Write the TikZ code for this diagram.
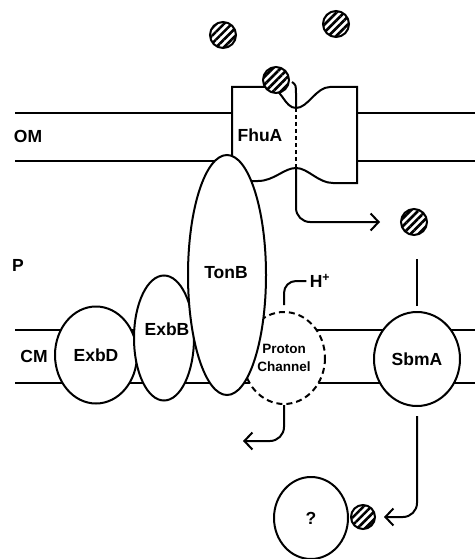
\documentclass[tikz,border=0pt]{standalone}
\usepackage{fontspec}
\setmainfont{Liberation Sans}
\usetikzlibrary{shapes.geometric,arrows.meta,patterns.meta}

\begin{document}
\begin{tikzpicture}[x=1pt, y=-1pt,
  lbl/.style={font=\fontsize{17.5}{20}\selectfont\bfseries},
  prot/.style={ellipse, draw, fill=white, line width=2pt, inner sep=0pt, lbl},
  memb/.style={line width=2pt},
  ball/.style={circle, draw, line width=2pt, minimum size=26pt, inner sep=0pt,
    preaction={fill=white}, pattern={Lines[angle=45, distance=5.5pt, line width=2.6pt]}},
  flow/.style={line width=2pt, rounded corners=14pt,
    -{Straight Barb[length=8pt, width=17pt, line width=2pt]}}
]
  \useasboundingbox (0,0) rectangle (475,559);

  % Outer and cytoplasmic membranes
  \draw[memb] (15,113) -- (475,113);
  \draw[memb] (15,161) -- (475,161);
  \draw[memb] (15,330) -- (475,330);
  \draw[memb] (15,383) -- (475,383);
  \node[lbl] (om) at (28,136) {OM};
  \node[lbl] (cm) at (34,356) {CM};
  \node[lbl] (peri) at (18,265) {P};

  % FhuA barrel in the outer membrane
  \draw[memb, fill=white] (232,87) -- (268,87)
    .. controls (282,87) and (284,108) .. (296,108)
    .. controls (308,108) and (316,87) .. (330,87)
    -- (357,87) -- (357,183) -- (333,183)
    .. controls (318,183) and (308,168) .. (296,168)
    .. controls (284,168) and (274,181) .. (258,181)
    -- (232,181) -- cycle;
  \node[lbl] (fhua) at (260,135) {FhuA};

  % Energy transducing complex
  \node[prot, minimum width=82pt, minimum height=97pt] (exbd) at (96,355) {ExbD};
  \node[prot, minimum width=60pt, minimum height=125pt] (exbb) at (164,338) {};
  \node[lbl] (exbblbl) at (167,329) {ExbB};
  \node[prot, draw=none, minimum width=82pt, minimum height=92pt,
    align=center, font=\fontsize{13.5}{18}\selectfont\bfseries] (pc) at (284,358) {Proton\\Channel};
  \draw[line width=2pt, dash pattern=on 6pt off 4pt] (pc.center) ellipse[x radius=41, y radius=46];
  \node[prot, minimum width=78pt, minimum height=240pt] (tonb) at (227,275) {};
  \node[lbl] (tonblbl) at (226,273) {TonB};
  \node[prot, minimum width=86pt, minimum height=94pt] (sbma) at (417,359) {SbmA};
  \node[prot, minimum width=74pt, minimum height=82pt] (unk) at (311,518) {?};

  % Ligand molecules
  \node[ball] (b1) at (223,35) {};
  \node[ball] (b2) at (336,24) {};
  \node[ball] (b3) at (276,80) {};
  \node[ball] (b4) at (414,222) {};
  \node[ball, minimum size=24pt] (b5) at (363,517) {};

  % Transport paths
  \coordinate (hook) at (292,82);
  \coordinate (dipin) at (296,108);
  \coordinate (dipout) at (296,168);
  \draw[memb] (hook) .. controls (296,85) .. (296,95) -- (dipin);
  \draw[line width=2.4pt, dash pattern=on 4pt off 3pt] (dipin) -- (dipout);
  \draw[flow, shorten >=20pt] (dipout) |- (b4.west);
  \draw[memb] ([yshift=5pt]sbma.north) -- ++(0,-47);
  \draw[flow, shorten >=8pt] ([yshift=-9pt]sbma.south) |- (b5.east);

  % Protons
  \node[lbl] (hplus) at (320,281) {H\textsuperscript{+}};
  \coordinate (hout) at (243,441);
  \draw[memb, rounded corners=12pt] ([yshift=6pt]pc.north) |- (hplus.west);
  \draw[flow] (pc.south) |- (hout);
\end{tikzpicture}
\end{document}
